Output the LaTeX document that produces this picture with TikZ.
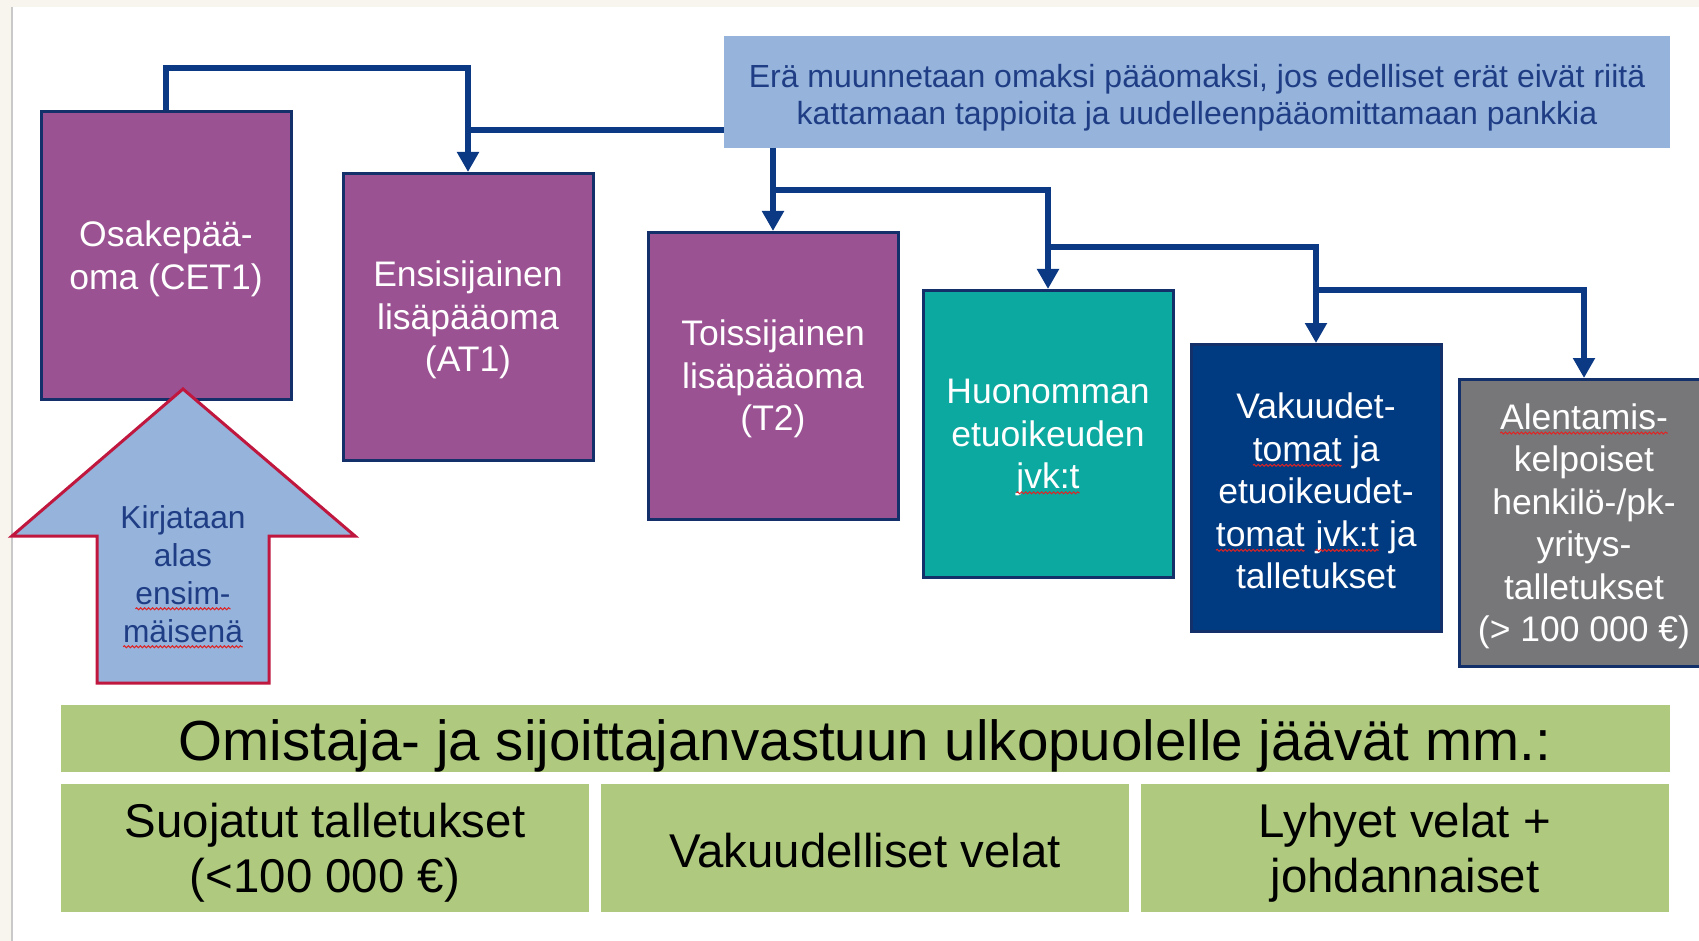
\documentclass[tikz,border=0pt]{standalone}
\usepackage{fontspec}
\setmainfont{Liberation Sans}
\usetikzlibrary{arrows.meta,decorations.pathmorphing}
\definecolor{pagebeige}{HTML}{F8F4EE}
\definecolor{edgegray}{HTML}{C9C9C9}
\definecolor{boxline}{HTML}{13306A}
\definecolor{flowblue}{HTML}{0B3983}
\definecolor{notetext}{HTML}{1F3D84}
\definecolor{noteblue}{HTML}{95B3DB}
\definecolor{capital}{HTML}{9A5292}
\definecolor{junior}{HTML}{0CA9A0}
\definecolor{senior}{HTML}{003A80}
\definecolor{deposit}{HTML}{77777A}
\definecolor{excluded}{HTML}{AFCA7F}
\definecolor{writeoff}{HTML}{C0173F}
\definecolor{squig}{HTML}{E02424}
\newcommand\toppad[1]{\rule{0pt}{#1}}
\newcommand\spellerr[1]{\tikz[baseline=(w.base)]{\node[inner sep=0pt,outer sep=0pt,draw=none,fill=none,
  minimum width=0pt,minimum height=0pt] (w) {#1};
  \draw[squig,line width=1pt,decorate,decoration={snake,amplitude=1pt,segment length=4pt}]
  ([yshift=-4pt]w.base west) -- ([yshift=-4pt]w.base east);}}
\tikzstyle{tier}=[draw=boxline,line width=3pt,minimum width=250pt,minimum height=287pt,
  text=white,align=center,font=\fontsize{35.5}{42.5}\selectfont]
\tikzstyle{flow}=[draw=flowblue,line width=6pt,-{Triangle[length=20pt,width=21pt]}]
\tikzstyle{link}=[draw=flowblue,line width=6pt]
\tikzstyle{outside}=[fill=excluded,inner sep=0pt,align=center]

\begin{document}
\begin{tikzpicture}[x=1pt,y=-1pt]
\clip (0,0) rectangle (1699,941);
\fill[pagebeige] (0,0) rectangle (1699,941);
\fill[white] (13,7) rectangle (1699,941);
\draw[edgegray,line width=2pt] (12,7) -- (12,941);

\node[fill=noteblue,minimum width=946pt,minimum height=112pt,text=notetext,align=center,
  font=\fontsize{32}{37}\selectfont] (era) at (1197,92)
  {\toppad{34pt}Erä muunnetaan omaksi pääomaksi, jos edelliset erät eivät riitä\\
   kattamaan tappioita ja uudelleenpääomittamaan pankkia};

\node[tier,fill=capital] (cet1) at (166,255.5) {\toppad{32pt}Osakepää-\\oma (CET1)};
\node[tier,fill=capital] (at1) at (468,317) {\toppad{32pt}Ensisijainen\\lisäpääoma\\(AT1)};
\node[tier,fill=capital] (t2) at (773,376) {\toppad{32pt}Toissijainen\\lisäpääoma\\(T2)};
\node[tier,fill=junior] (jvk) at (1048,434) {\toppad{32pt}Huonomman\\etuoikeuden\\\spellerr{jvk:t}};
\node[tier,fill=senior] (vak) at (1316,488)
  {\toppad{32pt}Vakuudet-\\\spellerr{tomat} ja\\etuoikeudet-\\\spellerr{tomat} \spellerr{jvk:t} ja\\talletukset};
\node[tier,fill=deposit] (ale) at (1584,523)
  {\toppad{32pt}\spellerr{Alentamis-}\\kelpoiset\\henkilö-/pk-\\yritys-\\talletukset\\(> 100 000 €)};

\draw[flow] (cet1.north) -- ++(0,-42) -| (at1.north);
\draw[link] (era.west |- 0,130) -- (at1.north |- 0,130);
\draw[flow] (era.south -| t2.north) -- (t2.north);
\draw[flow] (t2.north |- 0,190) -| (jvk.north);
\draw[flow] (jvk.north |- 0,247) -| (vak.north);
\draw[flow] (vak.north |- 0,290) -| (ale.north);

\draw[writeoff,fill=noteblue,line width=3pt] (183,389) -- (355,536) -- (269,536) -- (269,683)
  -- (97,683) -- (97,536) -- (12,536) -- cycle;
\node[text=notetext,align=center,font=\fontsize{31.7}{38}\selectfont] (first) at (183,574)
  {\toppad{29pt}Kirjataan\\alas\\\spellerr{ensim-}\\\spellerr{mäisenä}};

\node[outside,minimum width=1609pt,minimum height=67pt,font=\fontsize{56.5}{60}\selectfont] (limit)
  at (865,738.5) {\toppad{56pt}Omistaja- ja sijoittajanvastuun ulkopuolelle jäävät mm.:};
\node[outside,minimum width=528pt,minimum height=128pt,font=\fontsize{47.4}{55}\selectfont] (suoj)
  at (325,848) {\toppad{44.5pt}Suojatut talletukset\\(<100 000 €)};
\node[outside,minimum width=528pt,minimum height=128pt,font=\fontsize{47.4}{55}\selectfont] (vakv)
  at (865,848) {\toppad{40pt}Vakuudelliset velat};
\node[outside,minimum width=528pt,minimum height=128pt,font=\fontsize{47.4}{55}\selectfont] (lyh)
  at (1405,848) {\toppad{44pt}Lyhyet velat +\\johdannaiset};
\end{tikzpicture}
\end{document}
